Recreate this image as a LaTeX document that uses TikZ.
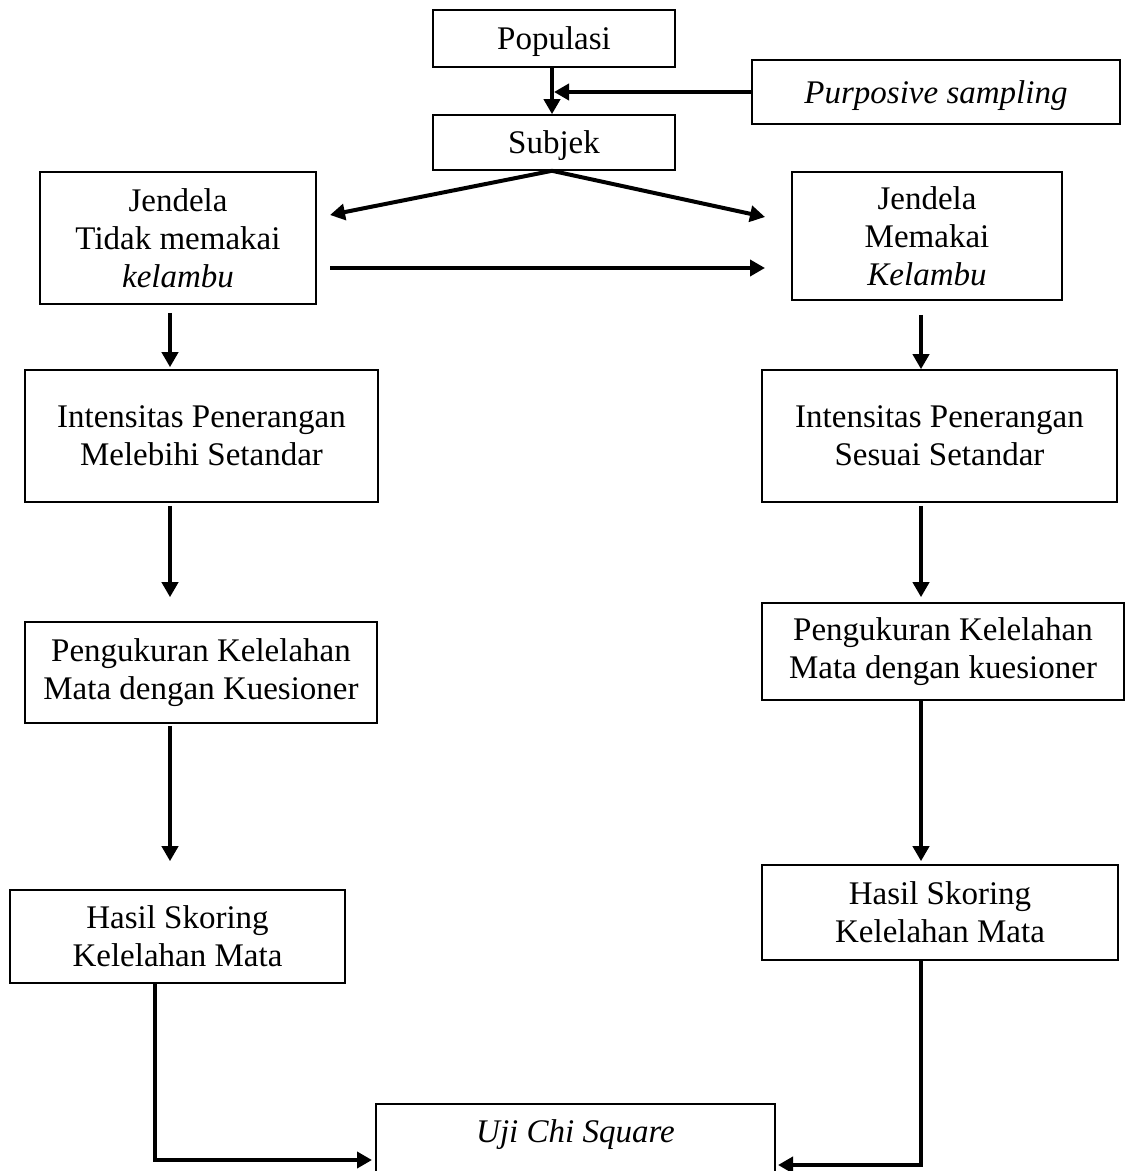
\documentclass[tikz,border=0pt]{standalone}
\usepackage{fontspec}
\setmainfont{Liberation Serif}
\usetikzlibrary{arrows.meta}
\tikzset{
  box/.style={draw, line width=0.8pt, align=center, inner sep=0pt,
    font=\fontsize{16.5}{19}\selectfont},
  txt/.style={align=center, inner sep=0pt, font=\fontsize{16.5}{19}\selectfont},
  arr/.style={line width=2pt, -{Triangle[length=7.5pt,width=8pt]}},
}
\begin{document}
\begin{tikzpicture}[x=0.5pt,y=-0.5pt]
    \useasboundingbox (0,0) rectangle (1126,1171);

    \node[box, text depth=0pt, minimum width=121pt, minimum height=28.5pt] (pop) at (554,38.5) {Populasi};
    \node[box, text depth=0pt, minimum width=184pt, minimum height=32pt] (purp) at (936,92) {\textit{Purposive sampling}};
    \node[box, text depth=0pt, minimum width=121pt, minimum height=27.5pt] (subj) at (554,142.5) {Subjek};

    \node[box, minimum width=138pt, minimum height=66pt] (jl) at (178,238) {Jendela\\Tidak memakai\\\textit{kelambu}};
    \node[box, minimum width=135pt, minimum height=64pt] (jr) at (927,236) {Jendela\\Memakai\\\textit{Kelambu}};

    \node[box, minimum width=176.5pt, minimum height=66pt] (il) at (201.5,436) {Intensitas Penerangan\\Melebihi Setandar};
    \node[box, minimum width=177.5pt, minimum height=66pt] (ir) at (939.5,436) {Intensitas Penerangan\\Sesuai Setandar};

    \node[box, minimum width=176pt, minimum height=50.5pt] (pl) at (201,672.5) {Pengukuran Kelelahan\\Mata dengan Kuesioner};
    \node[box, minimum width=181pt, minimum height=48.5pt] (pr) at (943,651.5) {Pengukuran Kelelahan\\Mata dengan kuesioner};

    \node[box, minimum width=167.5pt, minimum height=46.5pt] (hl) at (177.5,936.5) {Hasil Skoring\\Kelelahan Mata};
    \node[box, minimum width=178pt, minimum height=47.5pt] (hr) at (940,912.5) {Hasil Skoring\\Kelelahan Mata};

    \node[box, minimum width=199.5pt, minimum height=60pt, anchor=north] (uji) at (575.5,1103) {};
    \node[txt] (ujitxt) at ([yshift=-16pt]uji.north) {\textit{Uji Chi Square}};

    \coordinate (colM) at (552,0);
    \coordinate (colL) at (170,0);
    \coordinate (colR) at (921,0);
    \coordinate (jlin) at (330,215);
    \coordinate (jrin) at (765,217);
    \coordinate (crossA) at (330,268);
    \coordinate (crossB) at (765,268);
    \coordinate (ujiL) at (372,1160);
    \coordinate (ujiR) at (778,1165);

    \draw[arr] (pop.south -| colM) -- (subj.north -| colM);
    \draw[arr] (purp.west) -- ([xshift=1pt]purp.west -| colM);
    \draw[arr] (subj.south -| colM) -- (jlin);
    \draw[arr] (subj.south -| colM) -- (jrin);
    \draw[arr] (crossA) -- (crossB);

    \draw[arr, shorten <=4pt, shorten >=1pt] (jl.south -| colL) -- (il.north -| colL);
    \draw[arr, shorten <=1.5pt, shorten >=12pt] (il.south -| colL) -- (pl.north -| colL);
    \draw[arr, shorten <=1pt, shorten >=14pt] (pl.south -| colL) -- (hl.north -| colL);
    \draw[arr] ([xshift=-11.25pt]hl.south) |- (ujiL);

    \draw[arr, shorten <=7pt] (jr.south -| colR) -- (ir.north -| colR);
    \draw[arr, shorten <=1.5pt, shorten >=2.5pt] (ir.south -| colR) -- (pr.north -| colR);
    \draw[arr, shorten >=1.5pt] (pr.south -| colR) -- (hr.north -| colR);
    \draw[arr] (hr.south -| colR) |- (ujiR);
\end{tikzpicture}
\end{document}
